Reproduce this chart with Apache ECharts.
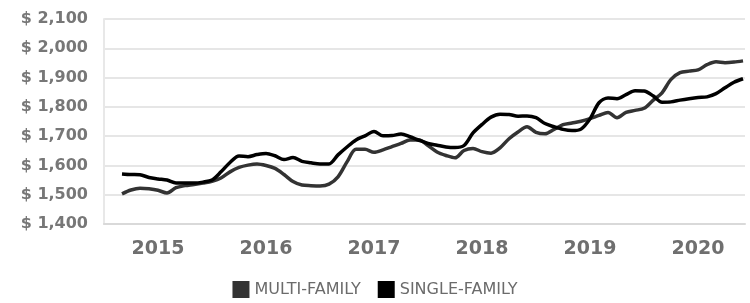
<!DOCTYPE html>
<html lang="en">

<head>
    <meta charset="UTF-8">
    <title>Rent trend</title>
    <script src="https://cdn.jsdelivr.net/npm/echarts@6/dist/echarts.min.js"></script>
    <style>
        html, body {
            margin: 0;
            padding: 0;
            background-color: #fff;
        }

        #main {
            width: 750px;
            height: 303px;
        }
    </style>
</head>

<body>
    <div id="main"></div>
</body>

<script>
    // monthly series, first month = Sep 2014
    let startYear = 2014;
    let startMonth = 9;
    let yearTicks = [2015, 2016, 2017, 2018, 2019, 2020];

    let multiFamily = [
        1503, 1516, 1522, 1520, 1515, 1506, 1524, 1531, 1535, 1540, 1546, 1557,
        1578, 1593, 1601, 1605, 1600, 1590, 1569, 1545, 1533, 1531, 1530, 1536,
        1561, 1612, 1655, 1655, 1645, 1653, 1664, 1675, 1687, 1687, 1668, 1646,
        1634, 1626, 1651, 1658, 1647, 1642, 1660, 1691, 1714, 1732, 1713, 1708,
        1723, 1739, 1745, 1751, 1760, 1771, 1781, 1763, 1781, 1788, 1795, 1822,
        1848, 1894, 1917, 1922, 1926, 1944, 1954, 1951, 1953, 1957
    ];

    let singleFamily = [
        1571, 1569, 1568, 1559, 1554, 1550, 1540, 1540, 1540, 1543, 1550, 1578,
        1610, 1632, 1630, 1637, 1641, 1633, 1620, 1627, 1614, 1609, 1605, 1605,
        1636, 1663, 1687, 1701, 1716, 1701, 1702, 1707, 1698, 1686, 1675, 1669,
        1663, 1661, 1668, 1711, 1740, 1765, 1775, 1774, 1768, 1769, 1763, 1743,
        1732, 1723, 1719, 1724, 1759, 1814, 1830, 1828, 1842, 1855, 1854, 1838,
        1816, 1817, 1823, 1828, 1832, 1834, 1845, 1865, 1884, 1896
    ];

    function toPoints(values) {
        let pts = [];
        for (let i = 0; i < values.length; i++) {
            let t = startYear + (startMonth - 1 + i) / 12;
            pts.push([t, values[i]]);
        }
        return pts;
    }

    let chart = echarts.init(document.getElementById('main'));

    let option = {
        animation: false,
        grid: {
            left: 104,
            right: 5,
            top: 19,
            bottom: 79
        },
        legend: {
            bottom: 0,
            left: 'center',
            icon: 'rect',
            itemWidth: 17,
            itemHeight: 17,
            itemGap: 17,
            textStyle: {
                fontFamily: 'DejaVu Sans',
                fontSize: 16,
                color: '#6b6b6b'
            },
            data: ['MULTI-FAMILY', 'SINGLE-FAMILY']
        },
        xAxis: {
            type: 'value',
            min: 2014.5,
            max: 2020.435,
            splitLine: { show: false },
            axisTick: { show: false },
            axisLine: {
                show: true,
                lineStyle: { color: '#d9d9d9', width: 2 }
            },
            axisLabel: {
                customValues: yearTicks,
                margin: 16,
                fontFamily: 'DejaVu Sans',
                fontWeight: 'bold',
                fontSize: 19,
                color: '#6f6f6f',
                formatter: function (v) { return String(v); }
            }
        },
        yAxis: {
            type: 'value',
            min: 1400,
            max: 2100,
            interval: 100,
            axisTick: { show: false },
            axisLine: {
                show: true,
                lineStyle: { color: '#e8e8e8', width: 2 }
            },
            splitLine: {
                lineStyle: { color: '#e6e6e6', width: 2 }
            },
            axisLabel: {
                margin: 16,
                fontFamily: 'DejaVu Sans',
                fontWeight: 'bold',
                fontSize: 16,
                color: '#777',
                formatter: function (v) {
                    return '$ ' + v.toLocaleString('en-US');
                }
            }
        },
        series: [
            {
                name: 'MULTI-FAMILY',
                type: 'line',
                smooth: 0.3,
                symbol: 'none',
                data: toPoints(multiFamily),
                itemStyle: { color: '#333' },
                lineStyle: { color: '#333', width: 3.5 }
            },
            {
                name: 'SINGLE-FAMILY',
                type: 'line',
                smooth: 0.3,
                symbol: 'none',
                data: toPoints(singleFamily),
                itemStyle: { color: '#000' },
                lineStyle: { color: '#000', width: 3.5 }
            }
        ]
    };

    chart.setOption(option);
</script>

</html>
